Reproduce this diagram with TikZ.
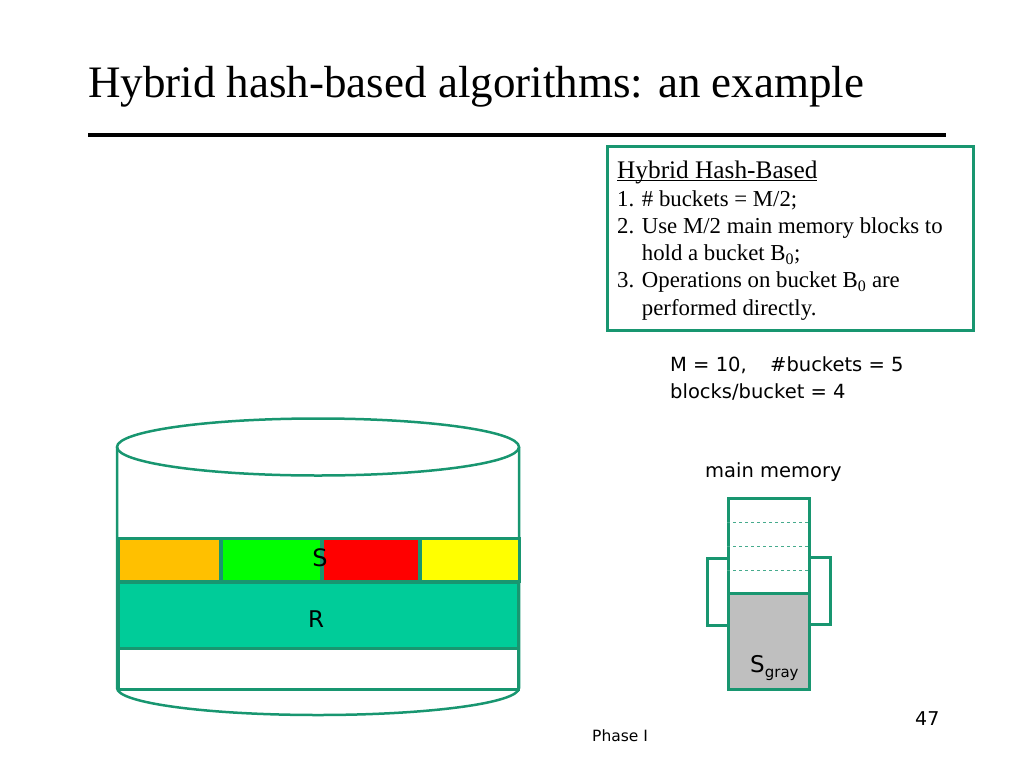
\documentclass[tikz,border=0pt]{standalone}
\usepackage{fontspec}
\setmainfont{Liberation Serif}
\setsansfont{DejaVu Sans}
\usepackage{tikz}
\usetikzlibrary{calc, positioning}
\definecolor{diskgreen}{RGB}{24,150,112}
\definecolor{relgreen}{RGB}{0,204,153}
\definecolor{bktorange}{RGB}{255,192,0}
\definecolor{bktgreen}{RGB}{0,255,0}
\definecolor{bktred}{RGB}{255,0,0}
\definecolor{bktyellow}{RGB}{255,255,0}
\newcommand{\hdrline}[1]{\setbox0\hbox{#1}\rlap{\rule[-2.6pt]{\wd0}{1.1pt}}\box0}
\tikzstyle{bucket}  = [rectangle, draw=diskgreen, line width=2.5pt, anchor=north west, inner sep=0pt, minimum height=43pt]
\tikzstyle{slab}    = [rectangle, draw=diskgreen, line width=2.5pt, anchor=north west, inner sep=0pt, minimum width=400pt]
\tikzstyle{block}   = [rectangle, draw=diskgreen, line width=2.5pt, anchor=north west, inner sep=0pt, minimum width=81pt]
\tikzstyle{flap}    = [rectangle, draw=diskgreen, line width=2.5pt, anchor=north west, inner sep=0pt, minimum width=21pt, minimum height=67pt]
\tikzstyle{label}   = [inner sep=0pt, font=\sffamily\fontsize{19.5}{24}\selectfont]

\begin{document}
\begin{tikzpicture}[x=1pt, y=-1pt]
    \useasboundingbox (0,0) rectangle (1024,768);

    % title and rule
    \node (title) [anchor=base west, inner sep=0pt, font=\fontsize{45}{50}\selectfont] at (88,97) {Hybrid hash-based algorithms: an example};
    \draw [line width=4.5pt] (88,135) -- (946,135);

    % info box
    \node (infobox) [draw=diskgreen, line width=2.5pt, anchor=north west, minimum width=366pt, minimum height=184pt] at (606,145) {};
    \node (infotext) [anchor=north west, inner sep=0pt, align=left, font=\fontsize{22.8}{27.3}\selectfont] at (617,161) {%
      \hdrline{\fontsize{25.3}{27.3}\selectfont Hybrid Hash-Based}\\
      1. \# buckets = M/2;\\
      2. Use M/2 main memory blocks to\\
      \hphantom{2. }hold a bucket B\textsubscript{0};\\
      3. Operations on bucket B\textsubscript{0} are\\
      \hphantom{3. }performed directly.};

    \node (params) [label, anchor=base west] at (670,371) {M = 10,\hspace{1.2em}\#buckets = 5};
    \node (perbkt) [label, anchor=base west] at (670,398) {blocks/bucket = 4};

    % disk
    \draw [diskgreen, line width=2.5pt] (318,447) ellipse [x radius=201, y radius=28.5];
    \draw [diskgreen, line width=2.5pt] (117,447) -- (117,688) arc [start angle=180, end angle=0, x radius=201, y radius=27] -- (519,447);
    \node (bkta) [bucket, fill=bktorange, minimum width=102pt] at (117,537) {};
    \node (bktb) [bucket, fill=bktgreen,  minimum width=100pt] at (220,537) {};
    \node (bktc) [bucket, fill=bktred,    minimum width=97pt]  at (321,537) {};
    \node (bktd) [bucket, fill=bktyellow, minimum width=99pt]  at (419,537) {};
    \node (rel)  [slab, fill=relgreen, minimum height=66pt] at (117,581) {};
    \node (free) [slab, fill=white, minimum height=41pt] at (117,647) {};
    \node (slbl) [label, font=\sffamily\fontsize{24}{28}\selectfont] at (320,558) {S};
    \node (rlbl) [label, font=\sffamily\fontsize{23}{28}\selectfont] at (316,619) {R};

    % main memory
    \node (memtxt) [label, anchor=base west] at (705,477) {main memory};
    \node (lflap) [flap] at (706,557) {};
    \node (rflap) [flap] at (808,556) {};
    \node (mem)   [block, fill=white, minimum height=95pt] at (727,497) {};
    \node (sgray) [block, fill=black!25, minimum height=96pt] at (727,592) {};
    \foreach \f in {0.26,0.51,0.75}
      \draw [diskgreen!80, dashed, line width=0.9pt] ($(mem.north west)!\f!(mem.south west)$) -- ($(mem.north east)!\f!(mem.south east)$);
    \node (sgraylbl) [label, anchor=base west, font=\sffamily\fontsize{23}{28}\selectfont] at (750,672) {S\raisebox{-0.25em}{\fontsize{15}{18}\selectfont gray}};

    % footer
    \node (phase) [label, anchor=base west, font=\sffamily\fontsize{15.5}{18}\selectfont] at (592,741) {Phase I};
    \node (pageno) [label, anchor=base west, font=\sffamily\fontsize{19}{22}\selectfont] at (915,725) {47};
\end{tikzpicture}
\end{document}
